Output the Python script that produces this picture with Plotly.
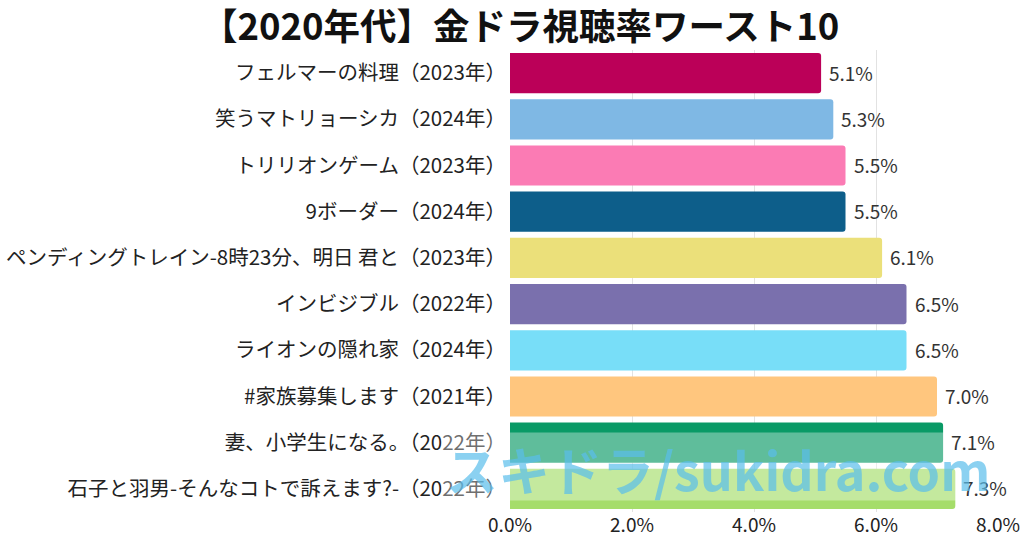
import plotly.graph_objects as go

title = "【2020年代】金ドラ視聴率ワースト10"
categories = [
    "フェルマーの料理（2023年）",
    "笑うマトリョーシカ（2024年）",
    "トリリオンゲーム（2023年）",
    "9ボーダー（2024年）",
    "ペンディングトレイン-8時23分、明日 君と（2023年）",
    "インビジブル（2022年）",
    "ライオンの隠れ家（2024年）",
    "#家族募集します（2021年）",
    "妻、小学生になる。（2022年）",
    "石子と羽男-そんなコトで訴えます?-（2022年）",
]
values = [5.1, 5.3, 5.5, 5.5, 6.1, 6.5, 6.5, 7.0, 7.1, 7.3]
colors = ["#bb0058", "#7fb8e4", "#fb7bb4", "#0d5e8a", "#ebe07a",
          "#7a70ad", "#78def8", "#ffc67e", "#0a9a66", "#a5dd6a"]
x_ticks = [0, 2, 4, 6, 8]
watermark = "スキドラ/sukidra.com"

FONT = "Noto Sans CJK JP"

fig = go.Figure(go.Bar(
    x=values, y=categories, orientation="h",
    marker=dict(color=colors, line=dict(width=0)),
    cliponaxis=False, hoverinfo="skip",
))

for c, v in zip(categories, values):
    fig.add_annotation(x=v, y=c, xref="x", yref="y", text=f"{v:.1f}%", showarrow=False,
                       xanchor="left", xshift=6, yshift=1,
                       font=dict(family=FONT, size=19, color="#333333"))

fig.update_layout(
    width=1024, height=538,
    margin=dict(l=510, r=26, t=50, b=26),
    paper_bgcolor="white", plot_bgcolor="white",
    bargap=0.13, barcornerradius=3,
    title=dict(text=f"<b>{title}</b>", x=0.508, xanchor="center",
               yref="container", y=0.95, yanchor="middle",
               font=dict(family=FONT, size=36.5, color="#111111")),
    showlegend=False,
    font=dict(family=FONT, size=20.5, color="#222222"),
)
fig.update_xaxes(range=[0, 8], tickvals=x_ticks, ticktext=[f"{t:.1f}%" for t in x_ticks],
                 showgrid=True, gridcolor="#e2e2e2", gridwidth=1, zeroline=False,
                 showline=False, ticks="", automargin=False,
                 tickfont=dict(size=19, color="#222222"))
fig.update_yaxes(autorange="reversed", showgrid=False, ticks="", ticklabelstandoff=3,
                 automargin=False, tickfont=dict(size=20.5, color="#222222"))

# translucent band + watermark
fig.add_shape(type="rect", xref="paper", yref="y", x0=-0.14, x1=1.025,
              y0=7.78, y1=9.25, fillcolor="rgba(255,255,255,0.35)", line=dict(width=0), layer="above")
fig.add_annotation(text=f"<b>{watermark}</b>", xref="paper", yref="paper", x=0.426, y=0.095,
                   xanchor="center", yanchor="middle",
                   showarrow=False, font=dict(family=FONT, size=52, color="rgba(90,190,235,0.7)"))

fig.write_html("out.html", config={"displayModeBar": False},
               post_script="document.body.style.margin='0px';")
